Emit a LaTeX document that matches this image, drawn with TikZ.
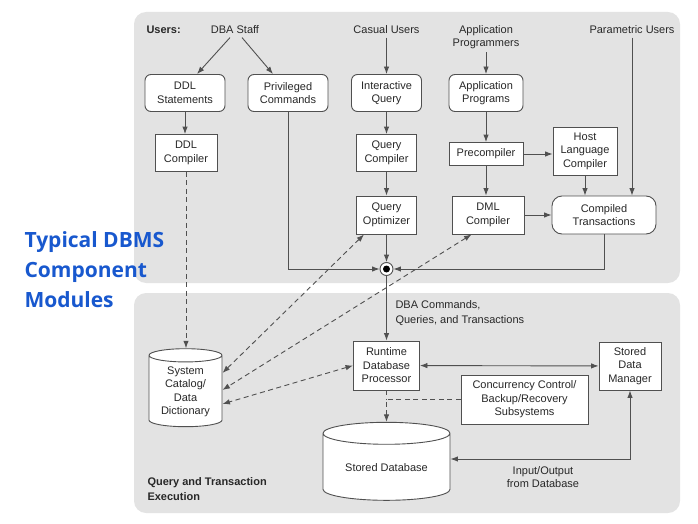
\documentclass[tikz,border=0pt]{standalone}
\usepackage{fontspec}
\setmainfont{Liberation Sans}
\newfontfamily\titlefont{Open Sans}
\usepackage{tikz}
\usetikzlibrary{shapes.geometric,arrows.meta}

\definecolor{panelgray}{RGB}{227,227,227}
\definecolor{linegray}{RGB}{80,80,80}
\definecolor{textgray}{RGB}{40,40,40}
\definecolor{titleblue}{RGB}{24,88,206}

\begin{document}
\begin{tikzpicture}[x=1pt,y=-1pt,
  every node/.style={font=\fontsize{11}{13.5}\selectfont, text=textgray},
  box/.style={draw=linegray, line width=0.9pt, fill=white, align=center, inner sep=1pt},
  rbox/.style={box, rounded corners=6pt},
  cyl/.style={box, cylinder, shape border rotate=90, aspect=0.26},
  link/.style={draw=linegray, line width=0.9pt, -{Latex[length=7.5pt,width=5.5pt]}},
  dlink/.style={link, {Latex[length=7.5pt,width=5.5pt]}-{Latex[length=7.5pt,width=5.5pt]}},
  dashlink/.style={dlink, dash pattern=on 5pt off 3.5pt}]
  \useasboundingbox (0,0) rectangle (698,524);
  % panels
  \fill[panelgray, rounded corners=12pt] (134,12) rectangle (680,283);
  \fill[panelgray, rounded corners=12pt] (134,293) rectangle (680,513);
  \node[anchor=base west, align=left, text=titleblue,
    font=\titlefont\bfseries\fontsize{21}{30}\selectfont] (title) at (21,307)
    {Typical DBMS\\Component\\Modules};

  % users
  \node[anchor=west, font=\fontsize{11}{13.5}\selectfont\bfseries] (users) at (143,30) {Users:};
  \node (dba) at (235,30) {DBA Staff};
  \node (casual) at (386.5,30) {Casual Users};
  \node[align=center] (appuser) at (486,37) {Application\\Programmers};
  \node (param) at (632,30) {Parametric Users};

  % compile side
  \node[rbox, minimum width=80pt, minimum height=37pt] (ddlstmt) at (185,93) {DDL\\Statements};
  \node[rbox, minimum width=80pt, minimum height=37pt] (priv) at (288,93) {Privileged\\Commands};
  \node[rbox, minimum width=70pt, minimum height=37pt] (iquery) at (386.5,93) {Interactive\\Query};
  \node[rbox, minimum width=74pt, minimum height=37pt] (appprogs) at (486,93) {Application\\Programs};
  \node[box, minimum width=62pt, minimum height=37pt] (ddlcomp) at (186,153) {DDL\\Compiler};
  \node[box, minimum width=60pt, minimum height=37pt] (qcomp) at (386.5,153) {Query\\Compiler};
  \node[box, minimum width=74pt, minimum height=23pt] (precomp) at (486,154) {Precompiler};
  \node[box, minimum width=64pt, minimum height=48pt] (host) at (585,151) {Host\\Language\\Compiler};
  \node[box, minimum width=60pt, minimum height=38pt] (qopt) at (386.5,215) {Query\\Optimizer};
  \node[box, minimum width=72pt, minimum height=38pt] (dmlcomp) at (488,215) {DML\\Compiler};
  \node[rbox, rounded corners=10pt, minimum width=104pt, minimum height=38pt] (comptrans) at (604,215) {Compiled\\Transactions};
  \node[draw=linegray, line width=0.9pt, fill=white, circle, minimum size=13pt, inner sep=0pt] (hub) at (386.5,269) {};
  \node[fill=black, circle, minimum size=7pt, inner sep=0pt] (hubdot) at (hub) {};

  % execution side
  \node[cyl, minimum width=73pt, minimum height=78pt] (catalog) at (185.5,392) {System\\Catalog/\\Data\\Dictionary};
  \node[box, minimum width=66pt, minimum height=49pt] (runtime) at (386.5,365.5) {Runtime\\Database\\Processor};
  \node[box, minimum width=62pt, minimum height=48pt] (sdm) at (630,366) {Stored\\Data\\Manager};
  \node[box, minimum width=127pt, minimum height=49pt] (concur) at (524.5,399.5) {Concurrency Control/\\Backup/Recovery\\Subsystems};
  \node[cyl, minimum width=127pt, minimum height=78pt] (storeddb) at (386.5,468) {Stored Database};
  \node[anchor=west, align=left, font=\fontsize{11}{15}\selectfont] (cmdlabel) at (392,313) {DBA Commands,\\Queries, and Transactions};
  \node[align=center] (iolabel) at (543,477) {Input/Output\\from Database};
  \node[anchor=west, align=left, font=\fontsize{11}{14.5}\selectfont\bfseries] (execlabel) at (144,489) {Query and Transaction\\Execution};

  % connectors
  \draw[link] ([xshift=-5pt]dba.south) -- ([xshift=12pt]ddlstmt.north);
  \draw[link] ([xshift=7pt]dba.south) -- ([xshift=-15pt]priv.north);
  \draw[link] (casual) -- (iquery);
  \draw[link] (appuser) -- (appprogs);
  \draw[link] (ddlstmt) -- (ddlstmt |- ddlcomp.north);
  \draw[link] (iquery) -- (qcomp);
  \draw[link] (appprogs) -- (precomp);
  \draw[link] (qcomp) -- (qopt);
  \draw[link] (precomp) -- (precomp |- dmlcomp.north);
  \draw[link] (precomp.east) -- (precomp.east -| host.west);
  \draw[link] (host) -- (host |- comptrans.north);
  \draw[link] (param) -- (param |- comptrans.north);
  \draw[link] (dmlcomp) -- (comptrans);
  \draw[link] (qopt) -- (hub);
  \draw[link] (priv) |- (hub);
  \draw[link] (comptrans) |- (hub);
  \draw[link] (hub) -- (runtime);
  \draw[dlink] (runtime) -- (sdm);
  \draw[dlink] ([yshift=9pt]storeddb.east) -| (sdm);
  \draw[link, dash pattern=on 5pt off 3.5pt] (ddlcomp) -- (ddlcomp |- catalog.north);
  \draw[dashlink] ([xshift=8pt]qopt.south west) -- ([yshift=19pt]catalog.east);
  \draw[dashlink] ([xshift=20pt]dmlcomp.south west) -- ([yshift=2pt]catalog.east);
  \draw[dashlink] (runtime.west) -- ([yshift=-12pt]catalog.east);
  \draw[draw=linegray, line width=0.9pt, dash pattern=on 5pt off 3.5pt] (runtime) -- (runtime |- concur.west);
  \draw[link, dash pattern=on 5pt off 3.5pt] (concur.west) -| (storeddb.north);
\end{tikzpicture}
\end{document}
